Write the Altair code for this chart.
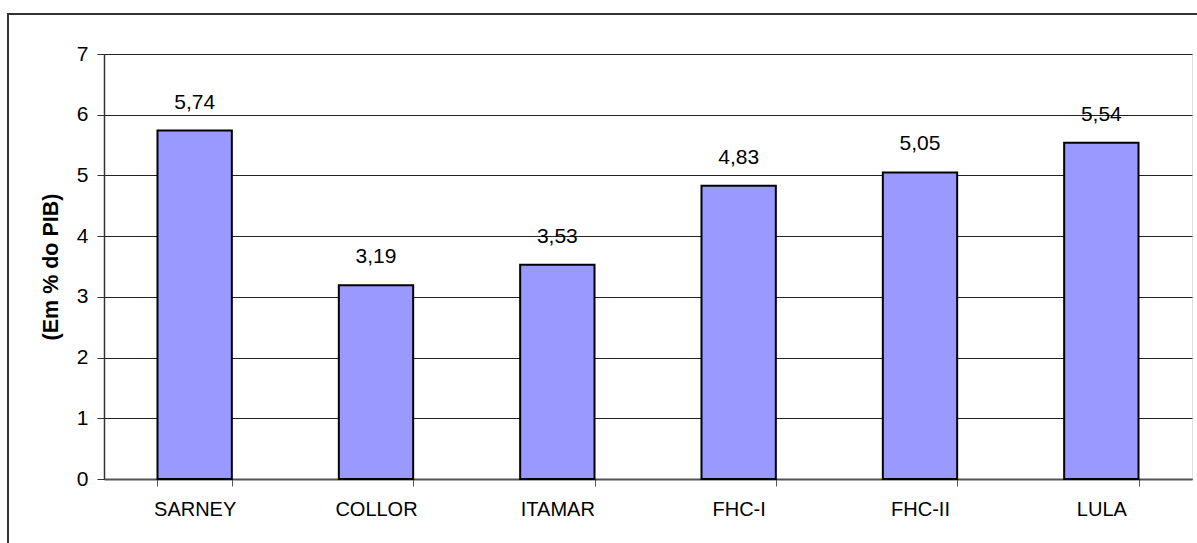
import altair as alt
import pandas as pd

# Government periods and their values (% of GDP)
governos = ["SARNEY", "COLLOR", "ITAMAR", "FHC-I", "FHC-II", "LULA"]
valores = [5.74, 3.19, 3.53, 4.83, 5.05, 5.54]
rotulos = ["5,74", "3,19", "3,53", "4,83", "5,05", "5,54"]

df = pd.DataFrame({"governo": governos, "valor": valores, "rotulo": rotulos})

FONT = "Liberation Sans"

x_enc = alt.X(
    "governo:N",
    sort=governos,
    title=None,
    scale=alt.Scale(paddingInner=0.59, paddingOuter=0.295),
    axis=alt.Axis(
        labelAngle=0,
        labelFont=FONT,
        labelFontSize=20,
        labelColor="#000000",
        labelPadding=13,
        tickBand="extent",
        tickSize=7,
        tickColor="#555555",
        domainColor="#555555",
        domainWidth=2,
        grid=False,
    ),
)

y_enc = alt.Y(
    "valor:Q",
    title="(Em % do PIB)",
    scale=alt.Scale(domain=[0, 7], nice=False),
    axis=alt.Axis(
        values=[0, 1, 2, 3, 4, 5, 6, 7],
        format="d",
        labelFont=FONT,
        labelFontSize=21,
        labelColor="#000000",
        labelPadding=9,
        tickSize=7,
        tickColor="#333333",
        domainColor="#333333",
        domainWidth=1.5,
        grid=True,
        gridColor="#222222",
        gridWidth=1,
        titleFont=FONT,
        titleFontSize=21.5,
        titleFontWeight="bold",
        titleColor="#000000",
        titlePadding=14,
    ),
)

# Outer frame around the whole figure
frame = alt.Chart(df).mark_rect(
    fill=None, stroke="#333333", strokeWidth=2, clip=False
).encode(
    x=alt.value(-96), x2=alt.value(1110), y=alt.value(-40), y2=alt.value(620)
)

bars = alt.Chart(df).mark_bar(
    color="#9999FF", stroke="#000000", strokeWidth=2
).encode(x=x_enc, y=y_enc)

labels = alt.Chart(df).mark_text(
    baseline="bottom", dy=-18, font=FONT, fontSize=21, color="#000000"
).encode(
    x=alt.X("governo:N", sort=governos),
    y=alt.Y("valor:Q"),
    text="rotulo:N",
)

chart = (
    alt.layer(frame, bars, labels)
    .properties(
        width=1088,
        height=425,
        autosize=alt.AutoSizeParams(type="none"),
        padding={"left": 104, "top": 54, "right": 5, "bottom": 64},
    )
    .configure_view(stroke="#808080", strokeWidth=1.5)
    .configure(background="#ffffff")
)

chart.save("out.html", embed_options={"renderer": "svg", "actions": False})
